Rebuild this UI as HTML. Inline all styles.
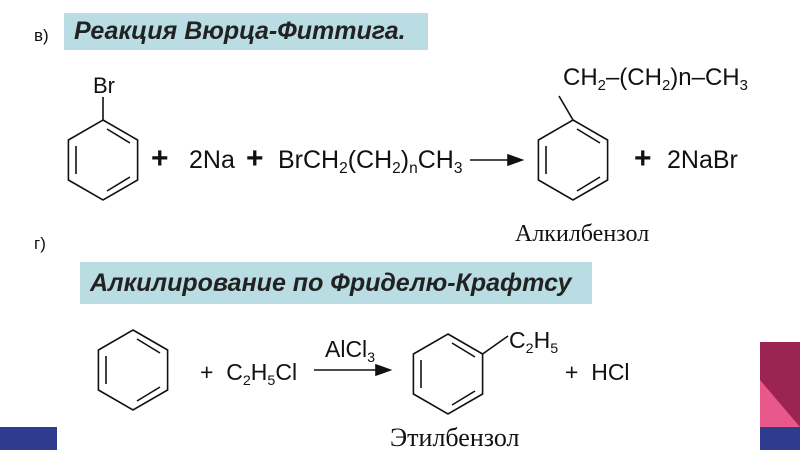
<!DOCTYPE html><html><head><meta charset="utf-8"><style>
body{margin:0;width:800px;height:450px;background:#fff;overflow:hidden;position:relative;font-family:"Liberation Sans",sans-serif}
.t{position:absolute;white-space:nowrap;color:#111;line-height:1}
.box{position:absolute;background:#b9dde2}
.h{font-weight:bold;font-style:italic;font-size:25px;color:#222}
.s{font-family:"Liberation Serif",serif}
sub{font-size:62%;vertical-align:-5px}
</style></head><body>
<div class="t" style="left:34px;top:27px;font-size:17px">в)</div>
<div class="box" style="left:64px;top:13px;width:364px;height:37px"></div>
<div class="t h" style="left:74px;top:19px">Реакция Вюрца-Фиттига.</div>
<div class="t" style="left:34px;top:235px;font-size:17px">г)</div>
<div class="box" style="left:80px;top:262px;width:512px;height:42px"></div>
<div class="t h" style="left:90px;top:271px">Алкилирование по Фриделю-Крафтсу</div>

<svg style="position:absolute;left:0;top:0" width="800" height="450" fill="none" stroke="#111" stroke-width="1.6">
<g transform="translate(103,160)"><polygon points="0,-40 34.6,-20 34.6,20 0,40 -34.6,20 -34.6,-20"/><line x1="4" y1="-31" x2="27" y2="-17"/><line x1="27" y1="17" x2="4" y2="31"/><line x1="-27" y1="-14" x2="-27" y2="14"/><line x1="0" y1="-40" x2="0" y2="-63"/></g>
<g transform="translate(573,160)"><polygon points="0,-40 34.6,-20 34.6,20 0,40 -34.6,20 -34.6,-20"/><line x1="4" y1="-31" x2="27" y2="-17"/><line x1="27" y1="17" x2="4" y2="31"/><line x1="-27" y1="-14" x2="-27" y2="14"/><line x1="0" y1="-40" x2="-14" y2="-64"/></g>
<g transform="translate(133,370)"><polygon points="0,-40 34.6,-20 34.6,20 0,40 -34.6,20 -34.6,-20"/><line x1="4" y1="-31" x2="27" y2="-17"/><line x1="27" y1="17" x2="4" y2="31"/><line x1="-27" y1="-14" x2="-27" y2="14"/></g>
<g transform="translate(448,374)"><polygon points="0,-40 34.6,-20 34.6,20 0,40 -34.6,20 -34.6,-20"/><line x1="4" y1="-31" x2="27" y2="-17"/><line x1="27" y1="17" x2="4" y2="31"/><line x1="-27" y1="-14" x2="-27" y2="14"/><line x1="34.6" y1="-20" x2="60" y2="-38"/></g>
<line x1="470" y1="160" x2="512" y2="160"/><polygon points="522,160 508,155 508,165" fill="#111"/>
<line x1="314" y1="370" x2="380" y2="370"/><polygon points="390,370 376,365 376,375" fill="#111"/>
</svg>

<div class="t" style="left:93px;top:75px;font-size:22px">Br</div>
<div class="t" style="left:151px;top:144px;font-size:30px;font-weight:bold">+</div>
<div class="t" style="left:189px;top:148px;font-size:25px">2Na</div>
<div class="t" style="left:246px;top:144px;font-size:30px;font-weight:bold">+</div>
<div class="t" style="left:278px;top:148px;font-size:25px">BrCH<sub>2</sub>(CH<sub>2</sub>)<sub>n</sub>CH<sub>3</sub></div>
<div class="t" style="left:563px;top:66px;font-size:24px">CH<sub>2</sub>–(CH<sub>2</sub>)n–CH<sub>3</sub></div>
<div class="t" style="left:634px;top:144px;font-size:30px;font-weight:bold">+</div>
<div class="t" style="left:667px;top:148px;font-size:25px">2NaBr</div>
<div class="t s" style="left:515px;top:222px;font-size:24px">Алкилбензол</div>

<div class="t" style="left:200px;top:361px;font-size:23px">+&nbsp; C<sub>2</sub>H<sub>5</sub>Cl</div>
<div class="t" style="left:325px;top:338px;font-size:23px">AlCl<sub>3</sub></div>
<div class="t" style="left:509px;top:329px;font-size:23px">C<sub>2</sub>H<sub>5</sub></div>
<div class="t" style="left:565px;top:361px;font-size:23px">+&nbsp; HCl</div>
<div class="t s" style="left:390px;top:425px;font-size:26px">Этилбензол</div>

<div style="position:absolute;left:0;top:427px;width:57px;height:23px;background:#2e3b8e"></div>
<div style="position:absolute;left:760px;top:342px;width:40px;height:85px;background:#9c2452"></div>
<svg style="position:absolute;left:760px;top:380px" width="40" height="47"><polygon points="0,0 40,47 0,47" fill="#e9588a"/></svg>
<div style="position:absolute;left:760px;top:427px;width:40px;height:23px;background:#2e3b8e"></div>
</body></html>
